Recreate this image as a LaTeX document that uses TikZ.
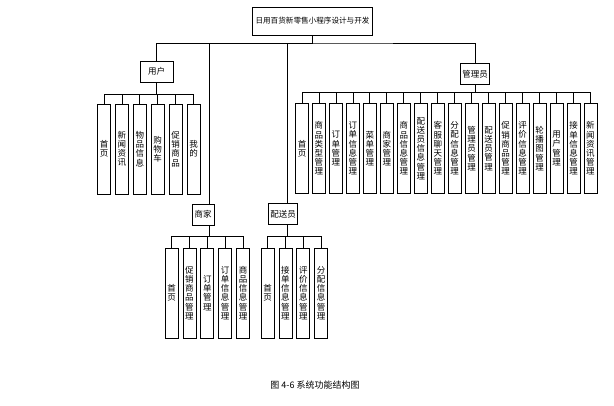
\documentclass[tikz,border=0pt]{standalone}
\usepackage{fontspec}
\newfontfamily\cjk{Noto Sans CJK SC}
\usetikzlibrary{positioning}

\begin{document}
\begin{tikzpicture}[x=1pt,y=-1pt,node distance=17.9pt,line width=0.8pt,
top node/.style={draw,font=\cjk\fontsize{7.6}{9}\selectfont,minimum height=28pt,inner xsep=3pt},
mid node/.style={draw,font=\cjk\fontsize{8.5}{9}\selectfont,minimum height=21pt,inner xsep=2pt},
leaf node/.style={draw,font=\cjk\fontsize{8.5}{9.2}\selectfont,align=center,inner sep=0pt,minimum width=13pt,minimum height=90pt},
elbow/.style={to path={-| (\tikztotarget)}}]
\useasboundingbox (0,0) rectangle (614,405);

\node[top node] (title) at (312.5,21) {日用百货新零售小程序设计与开发};
\node[mid node,minimum width=33pt] (user) at (156.5,71.5) {用户};
\node[mid node,minimum width=28pt] (admin) at (475,74) {管理员};
\node[mid node,minimum width=22pt] (vendor) at (203,214.5) {商家};
\node[mid node,minimum width=26pt] (courier) at (283,214) {配送员};

% user
\node[leaf node] (u1) at (104,149) {首\\页};
\node[leaf node] (u2) [right of=u1] {新\\闻\\资\\讯};
\node[leaf node] (u3) [right of=u2] {物\\品\\信\\息};
\node[leaf node] (u4) [right of=u3] {购\\物\\车};
\node[leaf node] (u5) [right of=u4] {促\\销\\商\\品};
\node[leaf node] (u6) [right of=u5] {我\\的};

% vendor
\node[leaf node] (s1) at (171.5,293) {首\\页};
\node[leaf node] (s2) [right of=s1] {促\\销\\商\\品\\管\\理};
\node[leaf node] (s3) [right of=s2] {订\\单\\管\\理};
\node[leaf node] (s4) [right of=s3] {订\\单\\信\\息\\管\\理};
\node[leaf node] (s5) [right of=s4] {商\\品\\信\\息\\管\\理};

% courier
\node[leaf node] (p1) at (267.5,293) {首\\页};
\node[leaf node] (p2) [right of=p1] {接\\单\\信\\息\\管\\理};
\node[leaf node] (p3) [right of=p2] {评\\价\\信\\息\\管\\理};
\node[leaf node] (p4) [right of=p3] {分\\配\\信\\息\\管\\理};

% admin
\begin{scope}[node distance=16.97pt,every node/.append style={minimum height=85pt}]
\node[leaf node] (a1) at (302,148.5) {首\\页};
\node[leaf node] (a2) [right of=a1] {商\\品\\类\\型\\管\\理};
\node[leaf node] (a3) [right of=a2] {订\\单\\管\\理};
\node[leaf node] (a4) [right of=a3] {订\\单\\信\\息\\管\\理};
\node[leaf node] (a5) [right of=a4] {菜\\单\\管\\理};
\node[leaf node] (a6) [right of=a5] {商\\家\\管\\理};
\node[leaf node] (a7) [right of=a6] {商\\品\\信\\息\\管\\理};
\node[leaf node] (a8) [right of=a7] {配\\送\\员\\信\\息\\管\\理};
\node[leaf node] (a9) [right of=a8] {客\\服\\聊\\天\\管\\理};
\node[leaf node] (a10) [right of=a9] {分\\配\\信\\息\\管\\理};
\node[leaf node] (a11) [right of=a10] {管\\理\\员\\管\\理};
\node[leaf node] (a12) [right of=a11] {配\\送\\员\\管\\理};
\node[leaf node] (a13) [right of=a12] {促\\销\\商\\品\\管\\理};
\node[leaf node] (a14) [right of=a13] {评\\价\\信\\息\\管\\理};
\node[leaf node] (a15) [right of=a14] {轮\\播\\图\\管\\理};
\node[leaf node] (a16) [right of=a15] {用\\户\\管\\理};
\node[leaf node] (a17) [right of=a16] {接\\单\\信\\息\\管\\理};
\node[leaf node] (a18) [right of=a17] {新\\闻\\资\\讯\\管\\理};
\end{scope}

\node[font=\cjk\fontsize{9}{9}\selectfont] (caption) at (315,385) {图 4-6 系统功能结构图};

% buses
\coordinate (bus) at (312.5,43);
\coordinate (ubus) at (156.5,94);
\coordinate (abus) at (475,92);
\coordinate (vbus) at (209,236);
\coordinate (cbus) at (287,236);

\draw (title) -- (bus);
\draw (user) |- (bus) -| (admin);
\draw (bus) -| ([xshift=6pt]vendor.north);
\draw (bus) -| ([xshift=4pt]courier.north);
\draw (user) -- (ubus);
\draw (admin) -- (abus);
\draw ([xshift=6pt]vendor.south) -- (vbus);
\draw ([xshift=4pt]courier.south) -- (cbus);

\path[draw]
(ubus) edge[elbow] (u1) edge[elbow] (u2) edge[elbow] (u3)
edge[elbow] (u4) edge[elbow] (u5) edge[elbow] (u6)
(vbus) edge[elbow] (s1) edge[elbow] (s2) edge[elbow] (s3)
edge[elbow] (s4) edge[elbow] (s5)
(cbus) edge[elbow] (p1) edge[elbow] (p2) edge[elbow] (p3) edge[elbow] (p4)
(abus) edge[elbow] (a1) edge[elbow] (a2) edge[elbow] (a3)
edge[elbow] (a4) edge[elbow] (a5) edge[elbow] (a6)
edge[elbow] (a7) edge[elbow] (a8) edge[elbow] (a9)
edge[elbow] (a10) edge[elbow] (a11) edge[elbow] (a12)
edge[elbow] (a13) edge[elbow] (a14) edge[elbow] (a15)
edge[elbow] (a16) edge[elbow] (a17) edge[elbow] (a18)
;
\end{tikzpicture}
\end{document}
